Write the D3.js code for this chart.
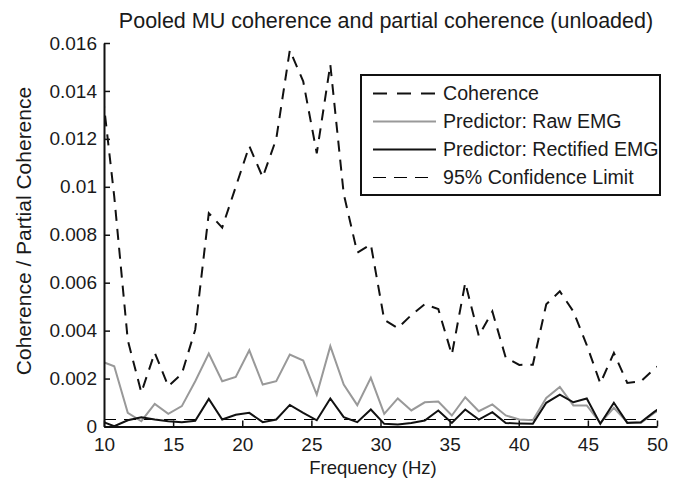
<!DOCTYPE html>
<html>
<head>
<meta charset="utf-8">
<script src="https://cdn.jsdelivr.net/npm/d3@7"></script>
<style>
  body { margin: 0; background: #fff; }
  text { font-family: "Liberation Sans", Arial, Helvetica, sans-serif; fill: #1a1a1a; }
</style>
</head>
<body>
<svg id="chart" width="679" height="482"></svg>
<script>
// frequency bins (Hz), 1000/1024 Hz spacing
var freqs = [9.77, 10.74, 11.72, 12.70, 13.67, 14.65, 15.63, 16.60, 17.58, 18.55,
  19.53, 20.51, 21.48, 22.46, 23.44, 24.41, 25.39, 26.37, 27.34, 28.32,
  29.30, 30.27, 31.25, 32.23, 33.20, 34.18, 35.16, 36.13, 37.11, 38.09,
  39.06, 40.04, 41.02, 41.99, 42.97, 43.95, 44.92, 45.90, 46.88, 47.85,
  48.83, 49.80, 50.78];

var coherence = [0.01455, 0.0096, 0.0036, 0.00142, 0.00308, 0.00168, 0.0022, 0.00404, 0.0089, 0.0083,
  0.0100, 0.0117, 0.0104, 0.0120, 0.0157, 0.0144, 0.0114, 0.0151, 0.0097, 0.00725,
  0.0076, 0.00445, 0.0041, 0.00465, 0.0051, 0.0049, 0.0030, 0.0060, 0.00378, 0.0048,
  0.00287, 0.00257, 0.00258, 0.0051, 0.00564, 0.0048, 0.0034, 0.0018, 0.00307, 0.00182,
  0.00188, 0.0024, 0.0028];

var rawEmg = [0.00273, 0.00251, 0.00057, 0.00022, 0.00094, 0.00053, 0.00085, 0.00189, 0.00304, 0.00189,
  0.00207, 0.00318, 0.00175, 0.00189, 0.0030, 0.00275, 0.00133, 0.00335, 0.00175, 0.00089,
  0.00203, 0.00053, 0.00117, 0.00067, 0.00101, 0.00104, 0.00046, 0.00122, 0.00064, 0.00092,
  0.00046, 0.00029, 0.00026, 0.00119, 0.00165, 0.00088, 0.00088, 0.00015, 0.00078, 0.00018,
  0.00015, 0.00057, 0.0009];

var rectEmg = [0.00023, 0.00001, 0.00026, 0.00039, 0.00029, 0.00022, 0.00018, 0.00024, 0.00115, 0.00029,
  0.00049, 0.00057, 0.00018, 0.00029, 0.0009, 0.00057, 0.00026, 0.00117, 0.00039, 0.00018,
  0.00071, 0.00011, 0.00008, 0.00015, 0.00025, 0.00067, 0.00015, 0.00071, 0.00029, 0.0006,
  0.00015, 0.00012, 0.00011, 0.00099, 0.00133, 0.00101, 0.00117, 0.00011, 0.00099, 0.00015,
  0.00018, 0.00061, 0.0010];

var confLimit = 0.00032;

var xTicks = [10, 15, 20, 25, 30, 35, 40, 45, 50];
var yTicks = [0, 0.002, 0.004, 0.006, 0.008, 0.01, 0.012, 0.014, 0.016];
var yTickLabels = ["0", "0.002", "0.004", "0.006", "0.008", "0.01", "0.012", "0.014", "0.016"];

var legendLabels = ["Coherence", "Predictor: Raw EMG", "Predictor: Rectified EMG", "95% Confidence Limit"];

var svg = d3.select("#chart");
var m = {left: 104, right: 22, top: 43, bottom: 55.5};
var W = 679, H = 482;

var x = d3.scaleLinear().domain([10, 50]).range([m.left, W - m.right]);
var y = d3.scaleLinear().domain([0, 0.016]).range([H - m.bottom, m.top]);

svg.append("rect").attr("width", W).attr("height", H).attr("fill", "#fff");

svg.append("clipPath").attr("id", "plotclip")
  .append("rect")
  .attr("x", x(10)).attr("y", y(0.016) - 5)
  .attr("width", x(50) - x(10)).attr("height", y(0) - y(0.016) + 5);

var styles = [
  {color: "#111", width: 2, dash: "11,8"},
  {color: "#999", width: 2, dash: null},
  {color: "#111", width: 2, dash: null},
  {color: "#000", width: 1, dash: "12,8"}
];

var series = [coherence, rawEmg, rectEmg];
var line = d3.line().x(function(d, i) { return x(freqs[i]); }).y(function(d) { return y(d); });

var plot = svg.append("g").attr("clip-path", "url(#plotclip)");

// confidence limit first, lines on top
var cy = Math.round(y(confLimit)) + 0.5;
plot.append("line")
  .attr("x1", x(10)).attr("x2", x(50))
  .attr("y1", cy).attr("y2", cy)
  .attr("stroke", styles[3].color).attr("stroke-width", styles[3].width)
  .attr("stroke-dasharray", styles[3].dash);

[1, 2, 0].forEach(function(k) {
  plot.append("path")
    .datum(series[k])
    .attr("d", line)
    .attr("fill", "none")
    .attr("stroke", styles[k].color)
    .attr("stroke-width", styles[k].width)
    .attr("stroke-linejoin", "miter")
    .attr("stroke-dasharray", styles[k].dash);
});

// axes, ticks point inward
var xAxis = svg.append("g")
  .attr("transform", `translate(0,${y(0)})`)
  .call(d3.axisBottom(x).tickValues(xTicks).tickSizeInner(-6).tickSizeOuter(0).tickPadding(11));
var yAxis = svg.append("g")
  .attr("transform", `translate(${x(10)},0)`)
  .call(d3.axisLeft(y).tickValues(yTicks).tickSizeInner(-6).tickSizeOuter(0).tickPadding(7)
    .tickFormat(function(d, i) { return yTickLabels[i]; }));

[xAxis, yAxis].forEach(function(a) {
  a.select(".domain").attr("stroke", "#111").attr("stroke-width", 2);
  a.selectAll(".tick line").attr("stroke", "#111").attr("stroke-width", 1.5);
  a.selectAll(".tick text").style("font-size", "19px").attr("fill", "#1a1a1a");
});

// titles
svg.append("text")
  .attr("x", 386).attr("y", 28)
  .attr("text-anchor", "middle")
  .style("font-size", "21.5px")
  .text("Pooled MU coherence and partial coherence (unloaded)");

svg.append("text")
  .attr("x", 373).attr("y", 474)
  .attr("text-anchor", "middle")
  .style("font-size", "18.5px")
  .text("Frequency (Hz)");

svg.append("text")
  .attr("transform", `translate(31,231) rotate(-90)`)
  .attr("text-anchor", "middle")
  .style("font-size", "21px")
  .text("Coherence / Partial Coherence");

// legend
var lg = svg.append("g");
lg.append("rect")
  .attr("x", 361).attr("y", 75).attr("width", 299).attr("height", 120)
  .attr("fill", "#fff").attr("stroke", "#111").attr("stroke-width", 2);

var rows = lg.selectAll("g.row").data(legendLabels).enter()
  .append("g").attr("class", "row")
  .attr("transform", function(d, i) { return `translate(0,${93.5 + i * 28})`; });
rows.append("line")
  .attr("x1", 373).attr("x2", 436).attr("y1", 0).attr("y2", 0)
  .attr("stroke", function(d, i) { return styles[i].color; })
  .attr("stroke-width", function(d, i) { return styles[i].width; })
  .attr("stroke-dasharray", function(d, i) { return i == 0 ? "14,10" : (i == 3 ? "13,8" : null); });
rows.append("text")
  .attr("x", 443).attr("y", 0).attr("dy", "0.35em")
  .style("font-size", "19.6px")
  .text(function(d) { return d; });
</script>
</body>
</html>
